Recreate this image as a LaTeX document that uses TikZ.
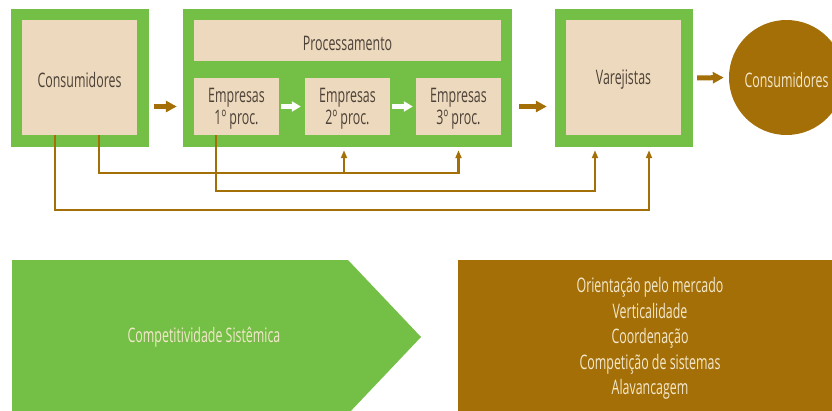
\documentclass[tikz,border=0pt]{standalone}
\usepackage{fontspec}
\setmainfont[FakeStretch=0.62]{Open Sans}
\usetikzlibrary{arrows.meta,calc}
\definecolor{leaf}{HTML}{74BF45}
\definecolor{sand}{HTML}{EDD9BD}
\definecolor{bark}{HTML}{A46F07}
\definecolor{ink}{HTML}{4D4238}
\definecolor{cream}{HTML}{F4E8CC}
\tikzset{
  frame/.style={fill=leaf, draw=none, inner sep=0},
  panel/.style={fill=sand, draw=none, inner sep=0},
  caption/.style={label={[text=ink, align=center, inner sep=0, yshift=-2.5pt,
    font=\fontsize{20}{21.5}\selectfont]center:#1}},
  bigarrow/.style={draw=bark, line width=5pt, -{Triangle[length=11pt,width=11pt]}},
  whitearrow/.style={draw=white, line width=4.5pt, -{Triangle[length=9pt,width=10pt]}},
  feedback/.style={draw=bark, line width=2.6pt},
  feedtip/.style={feedback, -{Triangle[length=8pt,width=6pt]}, shorten >=3pt},
  lighttext/.style={text=cream, align=center, font=\fontsize{20}{25.5}\selectfont},
}
\begin{document}
\begin{tikzpicture}[x=1pt,y=-1pt]
\useasboundingbox (0,0) rectangle (832,410);

% green frames
\node[frame, minimum width=138pt, minimum height=138pt] (consO) at (80,78) {};
\node[frame, minimum width=329pt, minimum height=138pt] (procO) at (347.5,78) {};
\node[frame, minimum width=138pt, minimum height=138pt] (varO) at (624,78) {};

% beige panels
\node[panel, minimum width=115pt, minimum height=115pt, caption={Consumidores}] (consI) at (79.5,77.5) {};
\node[panel, minimum width=307pt, minimum height=41pt, caption={Processamento}] (procI) at (347.5,40.5) {};
\node[panel, minimum width=85pt, minimum height=57pt, caption={Empresas\\1º proc.}] (e1) at (236.5,106.5) {};
\node[panel, minimum width=85pt, minimum height=57pt, caption={Empresas\\2º proc.}] (e2) at (347.5,106.5) {};
\node[panel, minimum width=85pt, minimum height=57pt, caption={Empresas\\3º proc.}] (e3) at (458.5,106.5) {};
\node[panel, minimum width=115pt, minimum height=115pt, caption={Varejistas}] (varI) at (623.5,77.5) {};

% final consumers
\node[circle, fill=bark, minimum size=115pt, inner sep=0,
  label={[text=cream, inner sep=0, yshift=-2.5pt, font=\fontsize{20}{21.5}\selectfont]center:Consumidores}]
  (circ) at (786.5,77.5) {};

% main flow
\draw[bigarrow, shorten <=5pt, shorten >=6pt] (consO.east |- e1) -- (procO.west |- e1);
\draw[bigarrow, shorten <=7pt, shorten >=8pt] (procO.east |- e1) -- (varO.west |- e1);
\draw[bigarrow, shorten <=4pt, shorten >=5pt] (varO.east) -- (circ.west);
\draw[whitearrow, shorten <=2pt, shorten >=4pt] (e1.east) -- (e2.west);
\draw[whitearrow, shorten <=2pt, shorten >=3pt] (e2.east) -- (e3.west);

% feedback links
\coordinate (yA) at (0,173);
\coordinate (yB) at (0,191);
\coordinate (yC) at (0,210);
\coordinate (xA) at ([xshift=19.5pt]consI.south);
\coordinate (xC) at ([xshift=-24.5pt]consI.south);
\coordinate (xB) at ([xshift=-20.5pt]e1.south);
\coordinate (x2) at ([xshift=-3.5pt]e2.south);
\coordinate (vB) at ([xshift=-29pt]varO.south);
\coordinate (vC) at ([xshift=25pt]varO.south);

\draw[feedtip] (xA) |- (e3 |- yA) -- (e3 |- procO.south);
\draw[feedtip] (x2 |- yA) -- (x2 |- procO.south);
\draw[feedtip] (xB) |- (vB |- yB) -- (vB);
\draw[feedtip] (xC) |- (vC |- yC) -- (vC);

% lower band
\fill[leaf] (12,260) -- (348,260) -- (421,337) -- (348,414) -- (12,414) -- cycle;
\node[lighttext] (comp) at (204,337) {Competitividade Sistêmica};
\fill[bark] (458,260) rectangle (840,414);
\node[lighttext] (traits) at (650,338.5) {Orientação pelo mercado\\Verticalidade\\Coordenação\\Competição de sistemas\\Alavancagem};
\end{tikzpicture}
\end{document}
